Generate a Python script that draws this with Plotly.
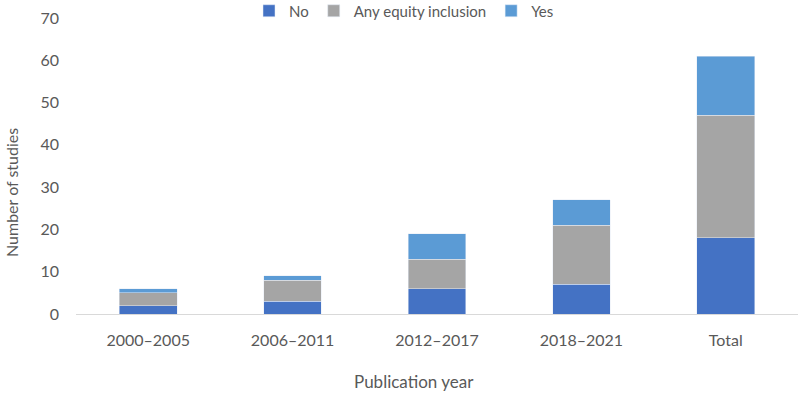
import plotly.graph_objects as go

categories = ["2000\u20132005", "2006\u20132011", "2012\u20132017", "2018\u20132021", "Total"]
no_vals = [2, 3, 6, 7, 18]
any_vals = [3, 5, 7, 14, 29]
yes_vals = [1, 1, 6, 6, 14]
y_ticks = [0, 10, 20, 30, 40, 50, 60, 70]

fig = go.Figure()
fig.add_bar(x=categories, y=no_vals, name="No", marker_color="#4472C4", width=0.4)
fig.add_bar(x=categories, y=any_vals, name="Any equity inclusion", marker_color="#A5A5A5", width=0.4)
fig.add_bar(x=categories, y=yes_vals, name="Yes", marker_color="#5B9BD5", width=0.4)

font_family = "Lato, Open Sans, sans-serif"
grey = "#595959"
fig.update_layout(
    barmode="stack",
    width=800, height=395,
    margin=dict(l=76, r=2, t=18, b=81, autoexpand=False),
    paper_bgcolor="white", plot_bgcolor="white",
    font=dict(family=font_family, color=grey, size=16),
    legend=dict(orientation="h", xref="container", yref="container",
                x=404 / 800, xanchor="center", y=1 - 11 / 395,
                yanchor="middle", font=dict(size=15, color=grey), traceorder="normal",
                itemwidth=30, bgcolor="rgba(0,0,0,0)"),
    showlegend=True,
)
fig.update_xaxes(
    showline=True, linecolor="#D9D9D9", linewidth=1, automargin=False,
    tickfont=dict(size=16, color=grey), ticks="", ticklabelstandoff=12,
)
fig.update_yaxes(
    range=[0, 70], tickvals=y_ticks, showgrid=False, zeroline=False, automargin=False,
    tickfont=dict(size=16, color=grey), ticks="", ticklabelstandoff=16,
)
# axis titles placed like the original (offset from plot centre)
fig.add_annotation(text="Publication year", xref="paper", yref="paper",
                   x=(414 - 76) / 722, y=-(381 - 314) / 296, showarrow=False,
                   xanchor="center", yanchor="middle", font=dict(size=17, color=grey))
fig.add_annotation(text="Number of studies", xref="paper", yref="paper",
                   x=-(76 - 11) / 722, y=(314 - 193) / 296, showarrow=False, textangle=-90,
                   xanchor="center", yanchor="middle", font=dict(size=16, color=grey))
fig.write_html("out.html", config={"displayModeBar": False},
               post_script="document.body.style.margin='0';document.body.style.overflow='hidden';")
